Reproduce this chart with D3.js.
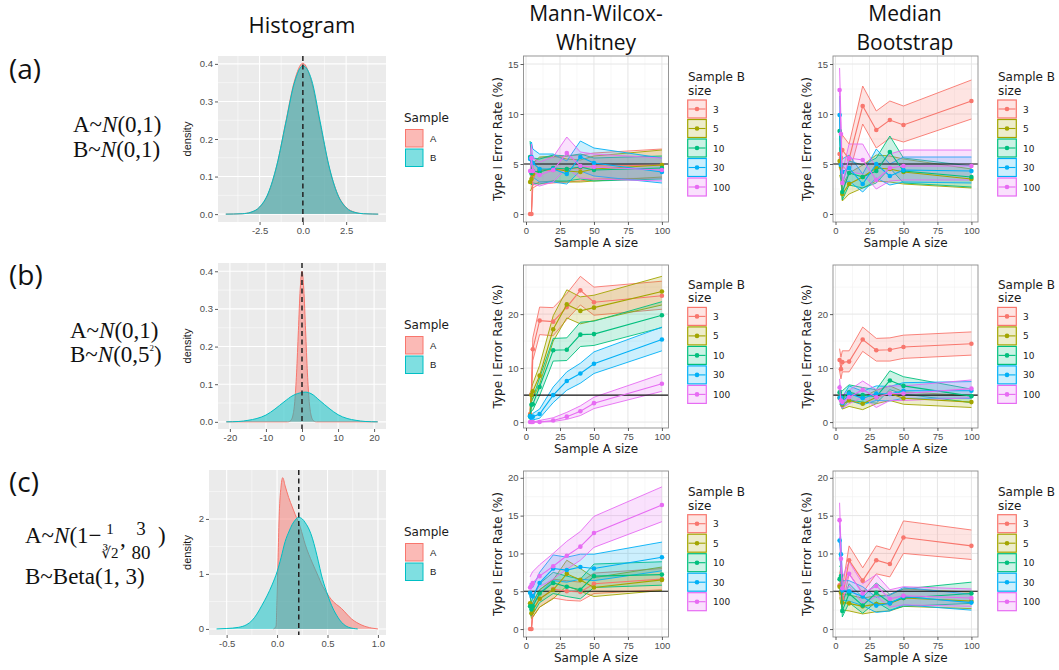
<!DOCTYPE html>
<html>
<head>
<meta charset="utf-8">
<script src="https://cdn.jsdelivr.net/npm/d3@7"></script>
<style>
  body { margin: 0; background: #fff; }
  svg { display: block; }
</style>
</head>
<body>
<svg id="fig" width="1059" height="670"></svg>
<script>
// ---------- data ----------
const sampleA = [3, 4, 5, 10, 20, 30, 40, 50, 100];
const sampleB = ['3', '5', '10', '30', '100'];
const groupColors = ['#F8766D', '#A3A500', '#00BF7D', '#00B0F6', '#E76BF3'];

// row (a) Mann-Wilcox-Whitney
const mwwA_mean = [[0, 0, 3.8, 4.3, 4.4, 4.5, 4.6, 4.8, 4.9], [3.2, 3.5, 4.0, 4.4, 4.5, 4.3, 4.2, 4.5, 4.9], [5.7, 4.1, 4.3, 4.2, 4.6, 4.5, 4.7, 4.4, 4.6], [5.5, 5.7, 5.1, 4.5, 4.5, 4.0, 5.7, 5.1, 4.2], [4.3, 5.6, 4.3, 3.9, 4.4, 6.1, 4.8, 4.7, 4.4]];
const mwwA_lo = [[0, 0, 2.6, 3.0, 3.1, 3.2, 3.3, 3.5, 3.6], [2.3, 2.5, 2.9, 3.2, 3.3, 3.2, 3.2, 3.3, 3.7], [4.1, 2.9, 3.1, 3.0, 3.3, 3.3, 3.5, 3.3, 3.5], [4.0, 4.2, 3.7, 3.2, 3.2, 3.0, 4.3, 3.8, 3.1], [3.0, 4.2, 3.0, 2.8, 3.2, 4.6, 3.6, 3.5, 3.3]];
const mwwA_hi = [[0, 0, 5.0, 5.6, 5.7, 5.8, 5.9, 6.1, 6.5], [4.3, 4.6, 5.1, 5.7, 5.8, 5.5, 5.4, 5.8, 6.4], [7.3, 5.5, 5.6, 5.5, 5.9, 5.8, 6.0, 5.6, 5.8], [7.0, 7.2, 6.5, 6.0, 6.0, 5.3, 7.3, 6.6, 5.6], [5.7, 7.0, 5.6, 5.2, 5.7, 7.7, 6.2, 6.0, 5.6]];

// row (a) Median Bootstrap
const bootA_mean = [[6.0, 5.6, 6.4, 5.5, 10.8, 8.4, 9.4, 8.9, 11.3], [5.3, 4.7, 2.0, 3.0, 3.7, 4.6, 4.5, 4.2, 3.5], [8.3, 4.9, 2.2, 4.1, 3.7, 4.3, 6.2, 4.3, 3.7], [9.9, 4.9, 4.2, 4.6, 3.0, 5.0, 3.8, 4.4, 4.3], [12.4, 8.0, 3.1, 5.6, 5.4, 3.4, 4.6, 4.8, 4.8]];
const bootA_lo = [[4.5, 4.2, 4.9, 4.0, 9.0, 6.6, 7.6, 7.2, 9.5], [3.9, 3.4, 1.3, 2.0, 2.6, 3.3, 3.2, 3.0, 2.6], [6.6, 3.6, 1.4, 2.9, 2.6, 3.1, 4.6, 3.1, 2.7], [8.1, 3.6, 3.0, 3.3, 2.2, 3.6, 2.9, 3.2, 3.1], [10.3, 6.4, 2.1, 4.2, 4.0, 2.5, 3.3, 3.4, 3.4]];
const bootA_hi = [[7.5, 7.1, 7.9, 7.0, 12.8, 10.3, 11.3, 10.8, 13.4], [6.7, 6.0, 2.9, 4.1, 4.9, 5.9, 5.8, 5.5, 4.5], [10.0, 6.2, 3.0, 5.3, 4.9, 5.6, 7.8, 5.6, 4.8], [11.8, 6.2, 5.5, 5.9, 4.0, 6.5, 5.0, 5.7, 5.7], [14.6, 9.6, 4.2, 7.0, 7.0, 4.6, 6.0, 6.4, 6.4]];

// row (b) Mann-Wilcox-Whitney
const mwwB_mean = [[1.5, 5.2, 13.5, 18.8, 18.6, 21.3, 24.4, 22.2, 23.4], [1.2, 5.0, 5.7, 8.6, 17.2, 21.8, 20.6, 21.2, 24.2], [1.0, 3.2, 3.3, 6.5, 13.3, 13.4, 16.2, 16.3, 19.8], [1.1, 0.8, 1.0, 1.5, 5.0, 7.6, 9.0, 10.8, 15.3], [0, 0, 0, 0, 0.3, 1.0, 2.0, 3.5, 7.1]];
const mwwB_lo = [[0.8, 3.8, 11.4, 16.2, 16.0, 19.0, 21.7, 19.8, 20.9], [0.6, 3.7, 4.3, 7.0, 15.0, 19.3, 18.2, 18.8, 21.7], [0.4, 2.1, 2.2, 4.9, 11.3, 11.4, 14.0, 14.2, 17.5], [0.5, 0.3, 0.4, 0.7, 3.6, 5.9, 7.2, 9.0, 13.2], [0, 0, 0, 0, 0.1, 0.5, 1.2, 2.5, 5.7]];
const mwwB_hi = [[2.3, 6.6, 15.6, 21.3, 21.2, 23.8, 27.0, 25.0, 26.1], [1.9, 6.4, 7.1, 10.5, 19.7, 24.5, 23.2, 23.5, 27.0], [1.6, 4.3, 4.4, 8.2, 15.5, 15.6, 18.5, 18.7, 22.3], [1.7, 1.3, 1.6, 2.4, 6.5, 9.3, 10.9, 13.0, 17.6], [0, 0, 0, 0.3, 0.8, 1.8, 3.0, 4.6, 8.9]];

// row (b) Median Bootstrap
const bootB_mean = [[11.5, 9.8, 11.1, 11.2, 15.3, 13.3, 13.4, 13.9, 14.5], [4.5, 4.3, 3.2, 4.0, 3.4, 4.6, 5.3, 4.4, 3.7], [5.5, 4.5, 4.5, 5.5, 5.0, 4.7, 7.7, 6.7, 4.8], [4.5, 4.5, 3.5, 5.3, 4.4, 5.3, 5.2, 5.8, 5.8], [6.4, 4.0, 3.7, 4.6, 6.0, 4.6, 5.3, 5.3, 6.2]];
const bootB_lo = [[9.5, 8.0, 9.3, 9.3, 13.1, 11.3, 11.3, 11.8, 12.4], [3.3, 3.1, 2.4, 2.9, 2.3, 3.4, 4.0, 3.3, 2.7], [4.1, 3.3, 3.3, 4.1, 3.7, 3.5, 6.0, 5.2, 3.6], [3.3, 3.3, 2.5, 4.0, 3.2, 4.0, 3.9, 4.4, 4.4], [4.9, 2.9, 2.6, 3.4, 4.6, 2.7, 4.0, 4.0, 4.5]];
const bootB_hi = [[13.6, 12.0, 13.2, 13.2, 17.6, 15.5, 15.6, 16.1, 16.7], [5.8, 5.6, 4.3, 5.3, 4.6, 5.9, 6.7, 5.6, 4.9], [6.9, 5.8, 5.8, 6.9, 6.4, 6.0, 9.5, 8.4, 6.1], [5.8, 5.8, 4.6, 6.7, 5.7, 6.7, 6.6, 7.3, 7.5], [8.0, 5.2, 4.9, 5.9, 7.6, 6.0, 6.7, 6.7, 7.8]];

// row (c) Mann-Wilcox-Whitney
const mwwC_mean = [[0, 0, 2.5, 4.0, 5.3, 5.0, 4.9, 6.0, 6.6], [3.4, 2.1, 2.5, 4.0, 5.2, 7.3, 6.5, 5.5, 6.5], [3.0, 2.6, 3.0, 4.7, 6.1, 5.6, 5.2, 7.0, 7.2], [4.8, 4.4, 4.3, 6.1, 8.0, 7.8, 8.2, 8.0, 9.5], [5.5, 5.8, 6.1, 7.0, 8.3, 9.7, 10.9, 12.7, 16.4]];
const mwwC_lo = [[0, 0, 1.6, 2.9, 4.1, 3.8, 3.7, 4.7, 5.2], [2.3, 1.4, 1.6, 2.9, 4.0, 5.7, 5.0, 4.3, 5.1], [2.0, 1.7, 2.0, 3.5, 4.7, 4.3, 4.0, 5.5, 5.8], [3.6, 3.3, 3.2, 4.7, 6.4, 6.2, 6.6, 6.4, 7.7], [4.1, 4.4, 4.6, 5.6, 6.6, 7.9, 9.1, 10.8, 14.2]];
const mwwC_hi = [[0, 0, 3.5, 5.2, 6.6, 6.4, 6.2, 7.4, 8.0], [4.6, 3.0, 3.5, 5.2, 6.5, 9.1, 8.0, 6.8, 8.2], [4.2, 3.6, 4.1, 6.0, 7.5, 7.0, 6.6, 8.6, 8.9], [6.1, 5.6, 5.5, 7.5, 9.8, 9.5, 9.9, 9.9, 11.5], [6.9, 7.3, 7.6, 8.5, 10.0, 11.6, 12.9, 14.9, 18.8]];

// row (c) Median Bootstrap
const bootC_mean = [[5.8, 6.5, 4.1, 9.1, 6.4, 9.1, 8.6, 12.1, 11.0], [5.6, 4.8, 3.5, 3.4, 3.0, 3.3, 3.4, 4.1, 3.7], [6.6, 7.0, 2.4, 4.7, 3.1, 4.8, 3.5, 4.1, 4.7], [11.7, 9.9, 5.1, 5.0, 4.3, 3.1, 3.4, 4.3, 3.5], [14.4, 9.3, 5.4, 7.3, 4.7, 5.7, 4.0, 4.4, 4.1]];
const bootC_lo = [[4.3, 5.0, 2.9, 7.3, 4.8, 7.3, 6.9, 10.0, 9.2], [4.2, 3.5, 2.5, 2.4, 2.0, 2.3, 2.4, 3.0, 2.7], [5.1, 5.5, 1.6, 3.5, 2.1, 3.6, 2.5, 3.0, 3.4], [9.7, 8.1, 3.8, 3.7, 3.1, 2.2, 2.4, 3.2, 2.5], [12.2, 7.5, 4.1, 5.7, 3.4, 4.3, 2.9, 3.2, 3.0]];
const bootC_hi = [[7.3, 8.1, 5.4, 11.0, 8.1, 11.0, 10.5, 14.3, 13.1], [7.0, 6.1, 4.6, 4.5, 4.1, 4.4, 4.5, 5.3, 4.9], [8.2, 8.6, 3.3, 6.0, 4.2, 6.1, 4.6, 5.3, 6.2], [13.7, 11.7, 6.4, 6.4, 5.6, 4.2, 4.5, 5.5, 4.6], [16.7, 11.1, 6.8, 8.9, 6.0, 7.2, 5.2, 5.6, 5.3]];

// density curves (histogram column)
const densA_x = [-4.45, -4, -3.5, -3, -2.5, -2, -1.5, -1, -0.5, 0, 0.5, 1, 1.5, 2, 2.5, 3, 3.5, 4, 4.35];
const densA_A = [0, 0.0003, 0.001, 0.005, 0.018, 0.054, 0.13, 0.242, 0.352, 0.402, 0.352, 0.24, 0.128, 0.054, 0.018, 0.005, 0.001, 0.0003, 0];
const densA_B = [0, 0.0003, 0.001, 0.005, 0.019, 0.056, 0.131, 0.24, 0.348, 0.395, 0.358, 0.246, 0.13, 0.053, 0.017, 0.0045, 0.001, 0.0003, 0];

const densB_Ax = [-21, -4, -3.5, -3, -2.5, -2, -1.5, -1, -0.5, 0, 0.5, 1, 1.5, 2, 2.5, 3, 3.5, 4, 21];
const densB_A = [0, 0, 0.001, 0.005, 0.018, 0.054, 0.13, 0.242, 0.352, 0.4, 0.352, 0.242, 0.13, 0.054, 0.018, 0.005, 0.001, 0, 0];
const densB_Bx = [-21, -17.5, -15, -12.5, -10, -7.5, -5, -2.5, 0, 1, 2.5, 5, 7.5, 10, 12.5, 15, 17.5, 21];
const densB_B = [0, 0.001, 0.004, 0.009, 0.018, 0.034, 0.053, 0.07, 0.078, 0.079, 0.075, 0.056, 0.036, 0.019, 0.009, 0.004, 0.001, 0];

const densC_Ax = [-0.035, -0.01, 0, 0.01, 0.02, 0.04, 0.056, 0.08, 0.115, 0.15, 0.18, 0.23, 0.28, 0.35, 0.41, 0.44, 0.49, 0.54, 0.64, 0.74, 0.84, 0.94, 1.0];
const densC_A = [0, 0.05, 0.6, 1.3, 2.0, 2.6, 2.75, 2.6, 2.39, 2.22, 2.08, 1.85, 1.53, 1.2, 0.95, 0.82, 0.66, 0.53, 0.37, 0.18, 0.07, 0.015, 0];
const densC_Bx = [-0.6, -0.5, -0.38, -0.3, -0.25, -0.2, -0.15, -0.1, -0.05, 0, 0.04, 0.08, 0.12, 0.15, 0.18, 0.21, 0.25, 0.28, 0.32, 0.35, 0.38, 0.41, 0.44, 0.49, 0.54, 0.59, 0.64, 0.71, 0.8];
const densC_B = [0, 0.008, 0.03, 0.08, 0.15, 0.27, 0.43, 0.6, 0.8, 1.04, 1.3, 1.59, 1.78, 1.9, 1.98, 2.03, 2.0, 1.93, 1.8, 1.65, 1.45, 1.22, 0.98, 0.68, 0.43, 0.25, 0.12, 0.03, 0];

const medianLines = [0, 0, 0.215];

// ---------- layout ----------
const svg = d3.select('#fig');
const sansTick = 'Liberation Sans, Arial, sans-serif';
const sansText = 'DejaVu Sans, Verdana, sans-serif';
const sansTitle = 'Open Sans, DejaVu Sans, sans-serif';
const serif = 'Liberation Serif, DejaVu Serif, serif';

const histBoxes = [
  {l: 218, r: 386, t: 56, b: 222, keyTop: 129},
  {l: 218, r: 386, t: 263, b: 429, keyTop: 336},
  {l: 209, r: 386, t: 470, b: 635, keyTop: 543}
];
const errRows = [
  {t: 56, b: 222, keyTop: 99.3, yDom: [-0.8, 15.8], ticks: [0, 5, 10, 15], minor: [2.5, 7.5, 12.5]},
  {t: 265, b: 428, keyTop: 306.7, yDom: [-1.1, 29.1], ticks: [0, 10, 20], minor: [5, 15, 25]},
  {t: 471, b: 637, keyTop: 514, yDom: [-1.05, 20.9], ticks: [0, 5, 10, 15, 20], minor: [2.5, 7.5, 12.5, 17.5]}
];
const errCols = [
  {l: 523.5, r: 668.5, legendX: 687},
  {l: 833, r: 978, legendX: 997}
];

const histCfg = [
  {xDom: [-4.9, 4.8], yDom: [-0.021, 0.421], xTicks: [-2.5, 0, 2.5], xMinor: [-3.75, -1.25, 1.25, 3.75],
   yTicks: [0, 0.1, 0.2, 0.3, 0.4], yMinor: [0.05, 0.15, 0.25, 0.35], xFmt: d => d.toFixed(1), yFmt: d => d.toFixed(1),
   A: [densA_x, densA_A], B: [densA_x, densA_B]},
  {xDom: [-23.3, 23.3], yDom: [-0.019, 0.422], xTicks: [-20, -10, 0, 10, 20], xMinor: [-15, -5, 5, 15],
   yTicks: [0, 0.1, 0.2, 0.3, 0.4], yMinor: [0.05, 0.15, 0.25, 0.35], xFmt: d => String(d), yFmt: d => d.toFixed(1),
   A: [densB_Ax, densB_A], B: [densB_Bx, densB_B]},
  {xDom: [-0.675, 1.08], yDom: [-0.11, 2.89], xTicks: [-0.5, 0, 0.5, 1], xMinor: [-0.25, 0.25, 0.75],
   yTicks: [0, 1, 2], yMinor: [0.5, 1.5, 2.5], xFmt: d => d.toFixed(1), yFmt: d => String(d),
   A: [densC_Ax, densC_A], B: [densC_Bx, densC_B]}
];

const errData = [
  [[mwwA_mean, mwwA_lo, mwwA_hi], [bootA_mean, bootA_lo, bootA_hi]],
  [[mwwB_mean, mwwB_lo, mwwB_hi], [bootB_mean, bootB_lo, bootB_hi]],
  [[mwwC_mean, mwwC_lo, mwwC_hi], [bootC_mean, bootC_lo, bootC_hi]]
];

function styleAxis(ax) {
  ax.select('.domain').remove();
  ax.selectAll('.tick line').attr('stroke', '#333333').attr('stroke-width', 0.8);
  ax.selectAll('.tick text').attr('fill', '#4D4D4D').style('font-family', sansTick).style('font-size', '9.5px');
}

function gridLines(g, vals, scale, box, vertical, color, width) {
  g.selectAll(null).data(vals).join('line')
    .attr('x1', d => vertical ? scale(d) : box.l)
    .attr('x2', d => vertical ? scale(d) : box.r)
    .attr('y1', d => vertical ? box.t : scale(d))
    .attr('y2', d => vertical ? box.b : scale(d))
    .attr('stroke', color).attr('stroke-width', width);
}

// ---------- histogram column ----------
function drawHist(box, cfg, vline) {
  const x = d3.scaleLinear().domain(cfg.xDom).range([box.l, box.r]);
  const y = d3.scaleLinear().domain(cfg.yDom).range([box.b, box.t]);
  const g = svg.append('g');
  g.append('rect').attr('x', box.l).attr('y', box.t)
    .attr('width', box.r - box.l).attr('height', box.b - box.t).attr('fill', '#EBEBEB');
  gridLines(g, cfg.xMinor, x, box, true, '#fff', 0.5);
  gridLines(g, cfg.yMinor, y, box, false, '#fff', 0.5);
  gridLines(g, cfg.xTicks, x, box, true, '#fff', 1.1);
  gridLines(g, cfg.yTicks, y, box, false, '#fff', 1.1);

  [['A', '#F8766D'], ['B', '#00BFC4']].forEach(([k, col]) => {
    const pts = cfg[k][0].map((v, i) => [v, cfg[k][1][i]]);
    g.append('path').datum(pts)
      .attr('d', d3.area().x(d => x(d[0])).y0(y(0)).y1(d => y(d[1])).curve(d3.curveMonotoneX))
      .attr('fill', col).attr('fill-opacity', 0.5);
    g.append('path').datum(pts)
      .attr('d', d3.line().x(d => x(d[0])).y(d => y(d[1])).curve(d3.curveMonotoneX))
      .attr('fill', 'none').attr('stroke', col).attr('stroke-width', 1);
  });

  g.append('line').attr('x1', x(vline)).attr('x2', x(vline)).attr('y1', box.t).attr('y2', box.b)
    .attr('stroke', '#222').attr('stroke-width', 1.5).attr('stroke-dasharray', '5,3.5');

  const ax = g.append('g').attr('transform', `translate(0,${box.b})`)
    .call(d3.axisBottom(x).tickValues(cfg.xTicks).tickFormat(cfg.xFmt).tickSize(3).tickPadding(2));
  styleAxis(ax);
  const ay = g.append('g').attr('transform', `translate(${box.l},0)`)
    .call(d3.axisLeft(y).tickValues(cfg.yTicks).tickFormat(cfg.yFmt).tickSize(3).tickPadding(2));
  styleAxis(ay);

  g.append('text').attr('transform', `translate(191,${(box.t + box.b) / 2}) rotate(-90)`)
    .attr('text-anchor', 'middle').style('font-family', sansTick).style('font-size', '11px')
    .attr('fill', '#1a1a1a').text('density');

  // legend
  const lg = svg.append('g');
  lg.append('text').attr('x', 404).attr('y', box.keyTop - 7.5).style('font-family', sansText)
    .style('font-size', '12px').attr('fill', '#1a1a1a').text('Sample');
  [['A', '#F8766D'], ['B', '#00BFC4']].forEach(([k, col], i) => {
    const ky = box.keyTop + i * 19.5;
    lg.append('rect').attr('x', 405.5).attr('y', ky + 0.5).attr('width', 17.5).attr('height', 17.5)
      .attr('fill', col).attr('fill-opacity', 0.5).attr('stroke', col).attr('stroke-width', 1);
    lg.append('text').attr('x', 430).attr('y', ky + 12.5).style('font-family', sansTick)
      .style('font-size', '9.5px').attr('fill', '#1a1a1a').text(k);
  });
}

// ---------- error-rate panels ----------
function drawErr(row, col, mean, lo, hi) {
  const box = {l: col.l, r: col.r, t: row.t, b: row.b};
  const x = d3.scaleLinear().domain([-1.85, 104.85]).range([box.l, box.r]);
  const y = d3.scaleLinear().domain(row.yDom).range([box.b, box.t]);
  const g = svg.append('g');
  g.append('rect').attr('x', box.l).attr('y', box.t)
    .attr('width', box.r - box.l).attr('height', box.b - box.t).attr('fill', '#fff');
  gridLines(g, [12.5, 37.5, 62.5, 87.5], x, box, true, '#F2F2F2', 0.6);
  gridLines(g, row.minor, y, box, false, '#F2F2F2', 0.6);
  gridLines(g, [0, 25, 50, 75, 100], x, box, true, '#E6E6E6', 1);
  gridLines(g, row.ticks, y, box, false, '#E6E6E6', 1);

  const clipId = 'clip' + Math.round(box.l) + '_' + Math.round(box.t);
  svg.append('clipPath').attr('id', clipId).append('rect')
    .attr('x', box.l).attr('y', box.t).attr('width', box.r - box.l).attr('height', box.b - box.t);
  const pg = g.append('g').attr('clip-path', `url(#${clipId})`);

  const line = d3.line().x(d => x(d[0])).y(d => y(d[1]));
  sampleB.forEach((b, i) => {
    const pts = sampleA.map((a, j) => [a, lo[i][j], hi[i][j]]);
    pg.append('path').datum(pts)
      .attr('d', d3.area().x(d => x(d[0])).y0(d => y(d[1])).y1(d => y(d[2])))
      .attr('fill', groupColors[i]).attr('fill-opacity', 0.2);
    pg.append('path').datum(pts.map(d => [d[0], d[1]])).attr('d', line)
      .attr('fill', 'none').attr('stroke', groupColors[i]).attr('stroke-width', 0.9);
    pg.append('path').datum(pts.map(d => [d[0], d[2]])).attr('d', line)
      .attr('fill', 'none').attr('stroke', groupColors[i]).attr('stroke-width', 0.9);
  });

  pg.append('line').attr('x1', box.l).attr('x2', box.r).attr('y1', y(5)).attr('y2', y(5))
    .attr('stroke', '#111').attr('stroke-width', 1.1);

  sampleB.forEach((b, i) => {
    const pts = sampleA.map((a, j) => [a, mean[i][j]]);
    pg.append('path').datum(pts).attr('d', line)
      .attr('fill', 'none').attr('stroke', groupColors[i]).attr('stroke-width', 1.1);
    pg.selectAll(null).data(pts).join('circle')
      .attr('cx', d => x(d[0])).attr('cy', d => y(d[1])).attr('r', 2.3)
      .attr('fill', groupColors[i]);
  });

  g.append('rect').attr('x', box.l).attr('y', box.t)
    .attr('width', box.r - box.l).attr('height', box.b - box.t)
    .attr('fill', 'none').attr('stroke', '#8c8c8c').attr('stroke-width', 0.9);

  const ax = g.append('g').attr('transform', `translate(0,${box.b})`)
    .call(d3.axisBottom(x).tickValues([0, 25, 50, 75, 100]).tickSize(3).tickPadding(2));
  styleAxis(ax);
  const ay = g.append('g').attr('transform', `translate(${box.l},0)`)
    .call(d3.axisLeft(y).tickValues(row.ticks).tickSize(3).tickPadding(2));
  styleAxis(ay);

  g.append('text').attr('x', (box.l + box.r) / 2).attr('y', box.b + 25).attr('text-anchor', 'middle')
    .style('font-family', sansText).style('font-size', '12px').attr('fill', '#1a1a1a').text('Sample A size');
  g.append('text').attr('transform', `translate(${box.l - 22},${(box.t + box.b) / 2}) rotate(-90)`)
    .attr('text-anchor', 'middle').style('font-family', sansText).style('font-size', '12px')
    .attr('fill', '#1a1a1a').text('Type I Error Rate (%)');

  // legend
  const lx = col.legendX;
  const lg = svg.append('g');
  lg.append('text').attr('x', lx + 1).attr('y', row.keyTop - 18).style('font-family', sansText)
    .style('font-size', '12px').attr('fill', '#1a1a1a').text('Sample B');
  lg.append('text').attr('x', lx + 1).attr('y', row.keyTop - 4.5).style('font-family', sansText)
    .style('font-size', '12px').attr('fill', '#1a1a1a').text('size');
  sampleB.forEach((b, i) => {
    const ky = row.keyTop + i * 19.5;
    lg.append('rect').attr('x', lx + 0.7).attr('y', ky + 0.7).attr('width', 18.6).attr('height', 18)
      .attr('fill', groupColors[i]).attr('fill-opacity', 0.2).attr('stroke', groupColors[i]).attr('stroke-width', 1.2);
    lg.append('line').attr('x1', lx + 1.5).attr('x2', lx + 18.5).attr('y1', ky + 9.7).attr('y2', ky + 9.7)
      .attr('stroke', groupColors[i]).attr('stroke-width', 1.1);
    lg.append('circle').attr('cx', lx + 10).attr('cy', ky + 9.7).attr('r', 2.3).attr('fill', groupColors[i]);
    lg.append('text').attr('x', lx + 26).attr('y', ky + 13.2).style('font-family', sansText)
      .style('font-size', '9px').attr('fill', '#1a1a1a').text(b);
  });
}

histBoxes.forEach((box, i) => drawHist(box, histCfg[i], medianLines[i]));
errRows.forEach((row, r) => errCols.forEach((col, c) => drawErr(row, col, ...errData[r][c])));

// ---------- column titles and row labels ----------
function title(x, y, txt, size) {
  svg.append('text').attr('x', x).attr('y', y).attr('text-anchor', 'middle')
    .style('font-family', sansTitle).style('font-size', size + 'px').attr('fill', '#111').text(txt);
}
title(302, 33, 'Histogram', 22);
title(596, 21, 'Mann-Wilcox-', 21);
title(596, 50, 'Whitney', 21);
title(905, 21, 'Median', 21);
title(905, 50, 'Bootstrap', 21);

[['(a)', 78.5], ['(b)', 284.5], ['(c)', 491.5]].forEach(([t, y]) => {
  svg.append('text').attr('x', 9).attr('y', y).style('font-family', sansTitle)
    .style('font-size', '28px').attr('fill', '#111').text(t);
});

// ---------- distribution formulas ----------
function formula(x, y, parts) {
  const t = svg.append('text').attr('x', x).attr('y', y).style('font-family', serif)
    .style('font-size', '23px').attr('fill', '#111');
  parts.forEach(p => {
    const s = t.append('tspan').text(p.t);
    if (p.i) s.style('font-style', 'italic');
    if (p.sup) s.style('font-size', '9px').attr('dy', -11);
    if (p.down) s.attr('dy', 11);
  });
}
formula(73, 132, [{t: 'A~'}, {t: 'N', i: true}, {t: '(0,1)'}]);
formula(73, 157, [{t: 'B~'}, {t: 'N', i: true}, {t: '(0,1)'}]);
formula(70, 338, [{t: 'A~'}, {t: 'N', i: true}, {t: '(0,1)'}]);
formula(70, 362, [{t: 'B~'}, {t: 'N', i: true}, {t: '(0,5'}, {t: '2', sup: true}, {t: ')', down: true}]);

formula(25, 543, [{t: 'A~'}, {t: 'N', i: true}, {t: '(1−'}]);
const fr = svg.append('g').style('font-family', serif).attr('fill', '#111');
fr.append('text').attr('x', 110).attr('y', 534).attr('text-anchor', 'middle').style('font-size', '15px').text('1');
fr.append('text').attr('x', 110).attr('y', 558).attr('text-anchor', 'middle').style('font-size', '15px').text('∛2');
fr.append('text').attr('x', 120).attr('y', 546).style('font-size', '23px').text(',');
fr.append('text').attr('x', 141).attr('y', 535).attr('text-anchor', 'middle').style('font-size', '19px').text('3');
fr.append('text').attr('x', 141).attr('y', 559).attr('text-anchor', 'middle').style('font-size', '19px').text('80');
fr.append('text').attr('x', 158).attr('y', 543).style('font-size', '23px').text(')');
formula(25, 584, [{t: 'B~Beta(1, 3)'}]);
</script>
</body>
</html>
